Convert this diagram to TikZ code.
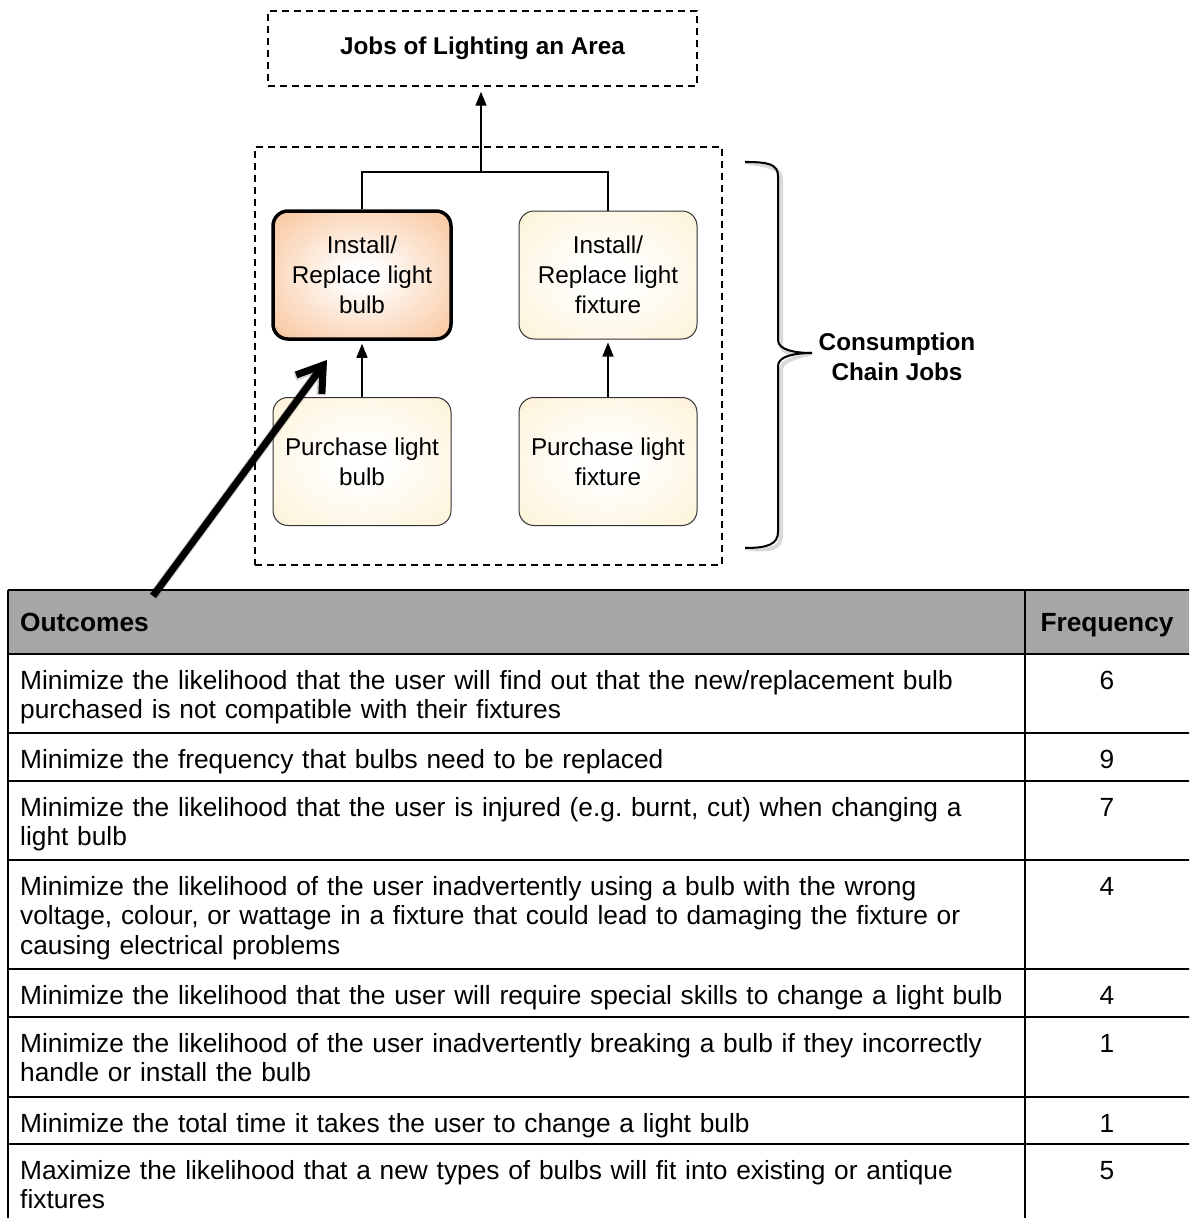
\documentclass[tikz,border=0pt]{standalone}
\usepackage{fontspec}
\setmainfont{Liberation Sans}
\usetikzlibrary{arrows.meta}

\definecolor{peach}{HTML}{F7BC8C}
\definecolor{peachdeep}{HTML}{F29F62}
\definecolor{cream}{HTML}{FDEFCC}
\definecolor{creamdeep}{HTML}{FBE4B2}
\definecolor{headgray}{HTML}{A6A6A6}

\pgfdeclareradialshading{glowpeach}{\pgfpoint{0bp}{0bp}}{%
  color(0bp)=(white); color(4bp)=(white); color(40bp)=(peach); color(72bp)=(peachdeep)}
\pgfdeclareradialshading{glowcream}{\pgfpoint{0bp}{0bp}}{%
  color(0bp)=(white); color(6bp)=(white); color(45bp)=(cream); color(72bp)=(creamdeep)}

\newcommand{\boxfont}{\fontsize{24.3}{30}\selectfont}
\newcommand{\tablefont}{\fontsize{26.3}{29.5}\selectfont}

\tikzset{
  dashframe/.style={draw, dash pattern=on 7pt off 5pt, line width=1.4pt},
  jobbox/.style={rounded corners=15pt, minimum width=178pt, minimum height=128pt,
    align=center, font=\boxfont, inner sep=0pt},
  focusjob/.style={jobbox, draw, line width=3.5pt, shading=glowpeach},
  plainjob/.style={jobbox, draw=black!80, line width=1pt, shading=glowcream},
  link/.style={line width=1.4pt},
  conn/.style={link, -{Triangle[length=14pt,width=11pt]}, shorten >=5pt},
  pointer/.style={line width=7pt, -{Straight Barb[length=24pt,width=32pt]}},
  pointershadow/.style={line width=9pt, draw=black, opacity=0.18,
    -{Straight Barb[length=24pt,width=32pt]}},
  brace/.style={line width=2pt},
  braceshadow/.style={line width=4pt, draw=black, opacity=0.15},
  rule/.style={line width=2.6pt},
  celltext/.style={anchor=base west, text width=1000pt, align=left, inner sep=0pt, font=\tablefont},
  numtext/.style={anchor=base, inner sep=0pt, font=\tablefont},
}

\begin{document}
\frenchspacing
\begin{tikzpicture}[x=1pt, y=-1pt]
\useasboundingbox (0,0) rectangle (1189,1218);
\clip (0,0) rectangle (1189,1218);
\fill[white] (0,0) rectangle (1189,1218);

% ---- job hierarchy ----
\node[dashframe, minimum width=429pt, minimum height=75pt, inner sep=0pt,
      font=\boxfont\bfseries] (area) at (482.5,48.5) {Jobs of Lighting an Area};
\node[dashframe, minimum width=467pt, minimum height=418pt, inner sep=0pt] (chain) at (488.5,356) {};

\node[focusjob] (b1) at (362,275) {Install/\\Replace light\\bulb};
\node[plainjob] (b2) at (608,275) {Install/\\Replace light\\fixture};
\node[plainjob] (b3) at (362,461.5) {Purchase light\\bulb};
\node[plainjob] (b4) at (608,461.5) {Purchase light\\fixture};

\coordinate (hub) at (481,172);
\draw[link] (b1.north) |- (hub) -| (b2.north);
\draw[conn] (hub) -- (hub |- area.south);
\draw[conn, shorten >=3pt] (b3.north) -- (b1.south);
\draw[conn, shorten >=3pt] (b4.north) -- (b2.south);

% ---- brace with its label ----
\node[font=\boxfont\bfseries, align=center, inner sep=0pt] (cons) at (897,357) {Consumption\\Chain Jobs};
\coordinate (bracetop) at (745,162);
\coordinate (bracetip) at (812,353);
\coordinate (bracebot) at (745,548);
\begin{scope}[shift={(3,4)}]
\draw[braceshadow] (bracetop) .. controls (768,162) and (778,164) .. (778,176) -- (778,340)
  .. controls (778,350) and (795,353) .. (bracetip)
  .. controls (795,353) and (778,356) .. (778,366) -- (778,532)
  .. controls (778,544) and (768,548) .. (bracebot);
\end{scope}
\draw[brace] (bracetop) .. controls (768,162) and (778,164) .. (778,176) -- (778,340)
  .. controls (778,350) and (795,353) .. (bracetip)
  .. controls (795,353) and (778,356) .. (778,366) -- (778,532)
  .. controls (778,544) and (768,548) .. (bracebot);

% ---- outcome table ----
\fill[headgray] (8,590) rectangle (1195,654);
\foreach \yy in {590,654,733,781,860,969,1017,1097,1144}
  \draw[rule] (8,\yy) -- (1195,\yy);
\draw[rule] (8,590) -- (8,1225);
\draw[rule] (1025,590) -- (1025,1225);

\node[celltext, font=\tablefont\bfseries] (hout) at (20,631) {Outcomes};
\node[numtext, font=\tablefont\bfseries] (hfreq) at (1107,631) {Frequency};

\node[celltext] (r1) at (20,689) {Minimize the likelihood that the user will find out that the new/replacement bulb\\purchased is not compatible with their fixtures};
\node[numtext] (f1) at (1107,689) {6};
\node[celltext] (r2) at (20,768) {Minimize the frequency that bulbs need to be replaced};
\node[numtext] (f2) at (1107,768) {9};
\node[celltext] (r3) at (20,816) {Minimize the likelihood that the user is injured (e.g. burnt, cut) when changing a\\light bulb};
\node[numtext] (f3) at (1107,816) {7};
\node[celltext] (r4) at (20,895) {Minimize the likelihood of the user inadvertently using a bulb with the wrong\\voltage, colour, or wattage in a fixture that could lead to damaging the fixture or\\causing electrical problems};
\node[numtext] (f4) at (1107,895) {4};
\node[celltext] (r5) at (20,1004) {Minimize the likelihood that the user will require special skills to change a light bulb};
\node[numtext] (f5) at (1107,1004) {4};
\node[celltext] (r6) at (20,1052) {Minimize the likelihood of the user inadvertently breaking a bulb if they incorrectly\\handle or install the bulb};
\node[numtext] (f6) at (1107,1052) {1};
\node[celltext] (r7) at (20,1132) {Minimize the total time it takes the user to change a light bulb};
\node[numtext] (f7) at (1107,1132) {1};
\node[celltext] (r8) at (20,1179) {Maximize the likelihood that a new types of bulbs will fit into existing or antique\\fixtures};
\node[numtext] (f8) at (1107,1179) {5};

% ---- pointer from the outcomes to the bulb job ----
\coordinate (ptail) at (153,596);
\coordinate (phead) at (327,360);
\begin{scope}[shift={(3,5)}]
\draw[pointershadow] (ptail) -- (phead);
\end{scope}
\draw[pointer] (ptail) -- (phead);
\end{tikzpicture}
\end{document}
